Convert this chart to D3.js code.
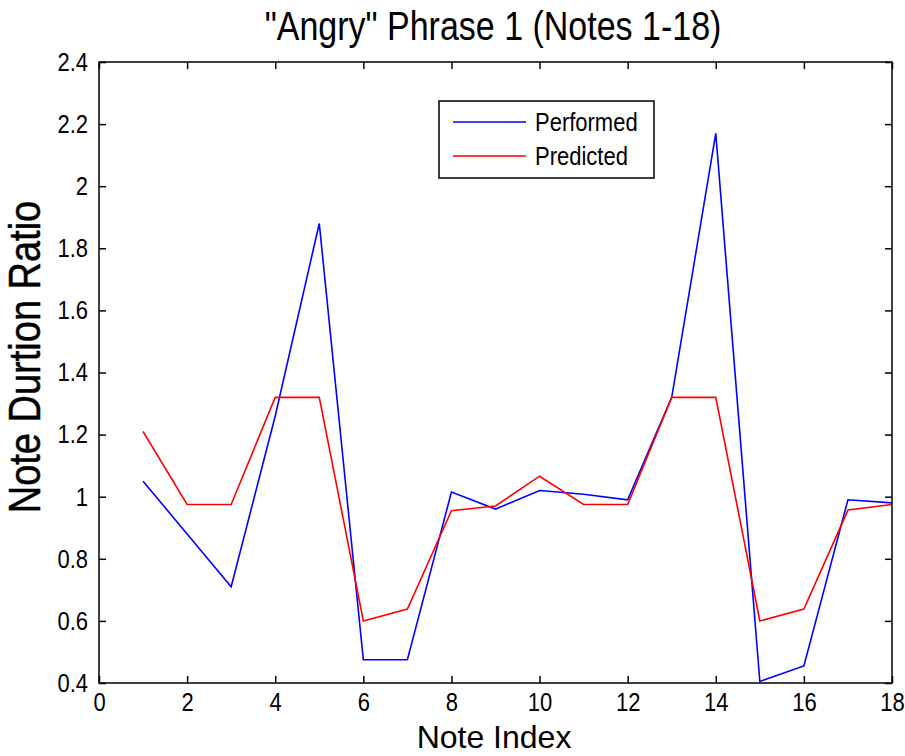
<!DOCTYPE html>
<html>
<head>
<meta charset="utf-8">
<script src="https://cdn.jsdelivr.net/npm/d3@7"></script>
<style>
  body { margin: 0; background: #fff; }
  svg { display: block; }
  text { font-family: "Liberation Sans", Arial, sans-serif; fill: #000; }
</style>
</head>
<body>
<svg id="chart" width="905" height="756"></svg>
<script>
const noteIndex = [1,2,3,4,5,6,7,8,9,10,11,12,13,14,15,16,17,18];
const performed = [1.05,0.88,0.71,1.26,1.88,0.475,0.475,1.015,0.96,1.02,1.008,0.99,1.32,2.17,0.405,0.455,0.99,0.98];
const predicted = [1.21,0.975,0.975,1.32,1.32,0.6,0.638,0.955,0.97,1.066,0.975,0.975,1.32,1.32,0.6,0.638,0.957,0.975];
const xTicks = [0,2,4,6,8,10,12,14,16,18];
const yTicks = [0.4,0.6,0.8,1,1.2,1.4,1.6,1.8,2,2.2,2.4];
const seriesNames = ["Performed","Predicted"];
const seriesColors = ["#0000ff","#ff0000"];

const svg = d3.select("#chart");
const L = 99, R = 892, T = 62, B = 683;
const SY = 1.18; // vertical stretch of the lettering
const x = d3.scaleLinear().domain([0,18]).range([L,R]);
const y = d3.scaleLinear().domain([0.4,2.4]).range([B,T]);

svg.append("rect").attr("x",L).attr("y",T).attr("width",R-L).attr("height",B-T)
  .attr("fill","#fff").attr("stroke","#000").attr("stroke-width",1.5);

const tickLen = 7;
const fmt = d => String(+d.toFixed(1));

const xAxis = svg.append("g").attr("transform",`translate(0,${B})`)
  .call(d3.axisBottom(x).tickValues(xTicks).tickSizeInner(-tickLen).tickSizeOuter(0).tickPadding(12).tickFormat(fmt));
const xAxisTop = svg.append("g").attr("transform",`translate(0,${T})`)
  .call(d3.axisTop(x).tickValues(xTicks).tickSizeInner(-tickLen).tickSizeOuter(0).tickFormat(""));
const yAxis = svg.append("g").attr("transform",`translate(${L},0)`)
  .call(d3.axisLeft(y).tickValues(yTicks).tickSizeInner(-tickLen).tickSizeOuter(0).tickPadding(11).tickFormat(fmt));
const yAxisR = svg.append("g").attr("transform",`translate(${R},0)`)
  .call(d3.axisRight(y).tickValues(yTicks).tickSizeInner(-tickLen).tickSizeOuter(0).tickFormat(""));

[xAxis,xAxisTop,yAxis,yAxisR].forEach(g => {
  g.select(".domain").remove();
  g.selectAll(".tick line").attr("stroke","#000").attr("stroke-width",1.5);
  g.selectAll("text").style("font-family","'Liberation Sans', Arial, sans-serif").style("font-size","22px").attr("fill","#1a1a1a");
});
xAxis.selectAll("text").attr("y",10/SY).attr("dy","0.71em").attr("transform",`scale(1,${SY})`);
yAxis.selectAll("text").attr("transform",`scale(1,${SY})`);

const line = d3.line().x((d,i) => x(noteIndex[i])).y(d => y(d));
[performed, predicted].forEach((s,k) => {
  svg.append("path").datum(s).attr("d",line).attr("fill","none")
    .attr("stroke",seriesColors[k]).attr("stroke-width",1.6);
});

function label(txt, cx, cy, size, rot, sy) {
  const g = svg.append("g").attr("transform",`translate(${cx},${cy}) rotate(${rot||0}) scale(1,${sy||SY})`);
  g.append("text").attr("text-anchor","middle").style("font-size",size+"px").text(txt);
  return g;
}
label('"Angry" Phrase 1 (Notes 1-18)', 493, 40, 34);
label("Note Index", 494, 748, 32, 0, 1.0);
label("Note Durtion Ratio", 40, 357, 38, -90).select("text").attr("stroke","#000").attr("stroke-width",0.4);

const lg = svg.append("g");
lg.append("rect").attr("x",439).attr("y",101).attr("width",215).attr("height",77)
  .attr("fill","#fff").attr("stroke","#000").attr("stroke-width",1.5);
seriesNames.forEach((n,k) => {
  const yy = 122 + k*34;
  lg.append("line").attr("x1",453).attr("x2",526).attr("y1",yy).attr("y2",yy)
    .attr("stroke",seriesColors[k]).attr("stroke-width",1.6);
  lg.append("g").attr("transform",`translate(535,${yy}) scale(1,${SY})`)
    .append("text").attr("dy","0.35em").style("font-size","22px").attr("fill","#1a1a1a").text(n);
});
</script>
</body>
</html>
